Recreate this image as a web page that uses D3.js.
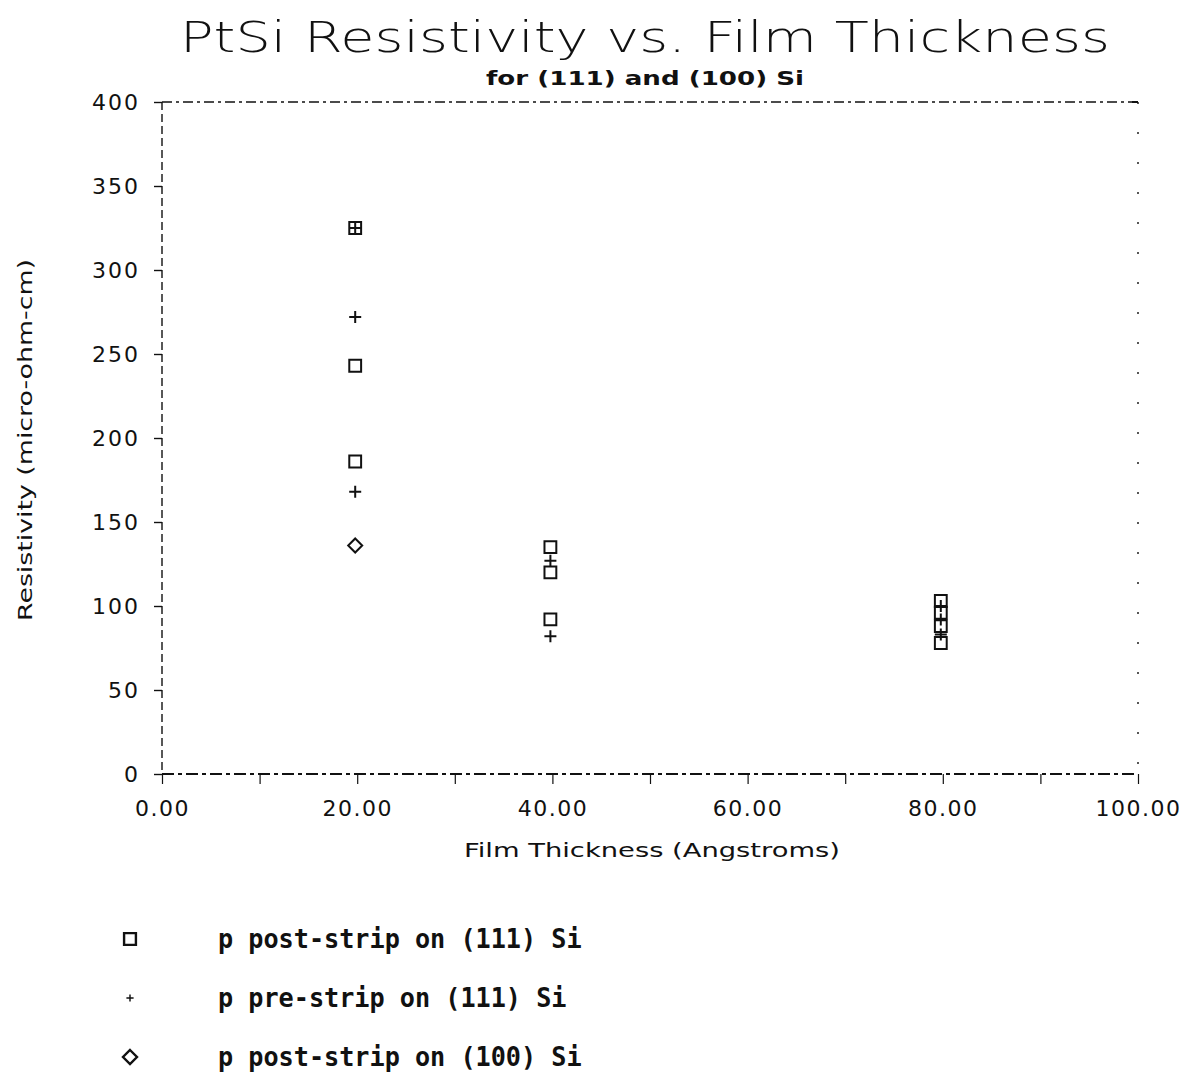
<!DOCTYPE html>
<html><head><meta charset="utf-8">
<script src="https://cdn.jsdelivr.net/npm/d3@7"></script>
<style>
body{margin:0;background:#fff;}
svg{display:block;}
</style></head>
<body>
<script>
// ---- data ----
const xTicks = [0, 20, 40, 60, 80, 100];
const xMinorTicks = [10, 30, 50, 70, 90];
const yTicks = [0, 50, 100, 150, 200, 250, 300, 350, 400];
const seriesNames = ["p post-strip on (111) Si", "p pre-strip on (111) Si", "p post-strip on (100) Si"];
const postStrip111 = [[20,325],[20,243],[20,186],[40,135],[40,120],[40,92],[80,78],[80,88],[80,96],[80,103]];
const preStrip111  = [[20,325],[20,272],[20,168],[40,127],[40,82],[80,83],[80,92],[80,100]];
const postStrip100 = [[20,136]];
const titleText = "PtSi Resistivity vs. Film Thickness";
const subtitleText = "for (111) and (100) Si";
const xLabel = "Film Thickness (Angstroms)";
const yLabel = "Resistivity (micro-ohm-cm)";

const W = 1194, H = 1075;
const svg = d3.select("body").append("svg").attr("width", W).attr("height", H);

const x = d3.scaleLinear().domain([0, 100]).range([162, 1138]);
const y = d3.scaleLinear().domain([0, 400]).range([774, 102]);

const ink = "#111";

// frame
const frame = svg.append("g").attr("fill","none").attr("stroke",ink).attr("stroke-width",1.4);
frame.append("line").attr("x1",x(0)).attr("x2",x(100)).attr("y1",y(400)).attr("y2",y(400)).attr("stroke-dasharray","10,4,3,4");
frame.append("line").attr("x1",x(100)).attr("x2",x(100)).attr("y1",y(400)).attr("y2",y(0)).attr("stroke-dasharray","2,28");
frame.append("line").attr("x1",x(0)).attr("x2",x(0)).attr("y1",y(400)).attr("y2",y(0)).attr("stroke-dasharray","8,4");
frame.append("line").attr("x1",x(0)).attr("x2",x(100)).attr("y1",y(0)).attr("y2",y(0)).attr("stroke-dasharray","12,4,4,4").attr("stroke-width",1.8);
frame.append("line").attr("x1",x(100)-6).attr("x2",x(100)).attr("y1",y(400)).attr("y2",y(400)).attr("stroke-width",2);

// y axis
const yAxis = d3.axisLeft(y).tickValues(yTicks).tickSize(8).tickPadding(14).tickFormat(d3.format("d"));
const gy = svg.append("g").attr("transform",`translate(${x(0)},0)`).call(yAxis);
gy.select(".domain").remove();
gy.selectAll(".tick line").attr("stroke",ink).attr("stroke-width",1.4);
gy.selectAll(".tick text").attr("fill",ink).style("font-family","'DejaVu Sans', sans-serif").style("font-size","22px").style("letter-spacing","2px").attr("dy","0.35em");

// x axis
const xAxis = d3.axisBottom(x).tickValues(xTicks).tickSize(10).tickPadding(16).tickFormat(d3.format(".2f"));
const gx = svg.append("g").attr("transform",`translate(0,${y(0)})`).call(xAxis);
gx.select(".domain").remove();
gx.selectAll(".tick line").attr("stroke",ink).attr("stroke-width",1.2);
gx.selectAll(".tick text").attr("fill",ink).style("font-family","'DejaVu Sans', sans-serif").style("font-size","22px").style("letter-spacing","1.5px");
const gxm = svg.append("g").attr("transform",`translate(0,${y(0)})`).call(d3.axisBottom(x).tickValues(xMinorTicks).tickSize(10).tickFormat(""));
gxm.select(".domain").remove();
gxm.selectAll(".tick line").attr("stroke",ink).attr("stroke-width",1.2);

// titles
svg.append("text").attr("x",645).attr("y",52).attr("text-anchor","middle")
  .attr("textLength",930).attr("lengthAdjust","spacingAndGlyphs")
  .style("font-family","'DejaVu Sans', sans-serif").style("font-weight","200").style("font-size","42px").attr("fill",ink).text(titleText);
svg.append("text").attr("x",645).attr("y",85).attr("text-anchor","middle")
  .attr("textLength",318).attr("lengthAdjust","spacingAndGlyphs")
  .style("font-family","'DejaVu Sans', sans-serif").style("font-weight","bold").style("font-size","19px").attr("fill",ink).text(subtitleText);
svg.append("text").attr("x",652).attr("y",857).attr("text-anchor","middle")
  .attr("textLength",376).attr("lengthAdjust","spacingAndGlyphs")
  .style("font-family","'DejaVu Sans', sans-serif").style("font-size","20px").attr("fill",ink).text(xLabel);
svg.append("text").attr("transform","translate(32,440) rotate(-90)").attr("text-anchor","middle")
  .attr("textLength",362).attr("lengthAdjust","spacingAndGlyphs")
  .style("font-family","'DejaVu Sans', sans-serif").style("font-size","19px").attr("fill",ink).text(yLabel);

// markers
const sq = d3.symbol().type(d3.symbolSquare).size(140);
const diamondPath = "M0,-7L7,0L0,7L-7,0Z";
const plus = "M-6,0H6M0,-6V6";

const pts = svg.append("g").attr("fill","none").attr("stroke",ink).attr("stroke-width",2);
pts.selectAll("path.sq").data(postStrip111).join("path").attr("class","sq")
  .attr("d",sq).attr("transform",d=>`translate(${x(d[0])-2},${y(d[1])})`);
pts.selectAll("path.pl").data(preStrip111).join("path").attr("class","pl")
  .attr("d",plus).attr("transform",d=>`translate(${x(d[0])-2},${y(d[1])})`);
pts.selectAll("path.di").data(postStrip100).join("path").attr("class","di")
  .attr("d",diamondPath).attr("transform",d=>`translate(${x(d[0])-2},${y(d[1])})`);

// legend
const legendMarks = [sq(), plus, diamondPath];
const leg = svg.append("g");
seriesNames.forEach((name, i) => {
  const yy = 939 + i*59;
  leg.append("path").attr("d", legendMarks[i])
    .attr("fill","none").attr("stroke",ink).attr("stroke-width", i===1 ? 2.4 : 2.4)
    .attr("transform", `translate(130,${yy}) scale(${i===1?0.6:1})`);
  leg.append("text").attr("x",218).attr("y",yy+9)
    .attr("textLength", name.length*15.15).attr("lengthAdjust","spacingAndGlyphs")
    .style("font-family","'DejaVu Sans Mono', monospace").style("font-weight","bold").style("font-size","26px")
    .attr("fill",ink).text(name);
});
</script>
</body></html>
